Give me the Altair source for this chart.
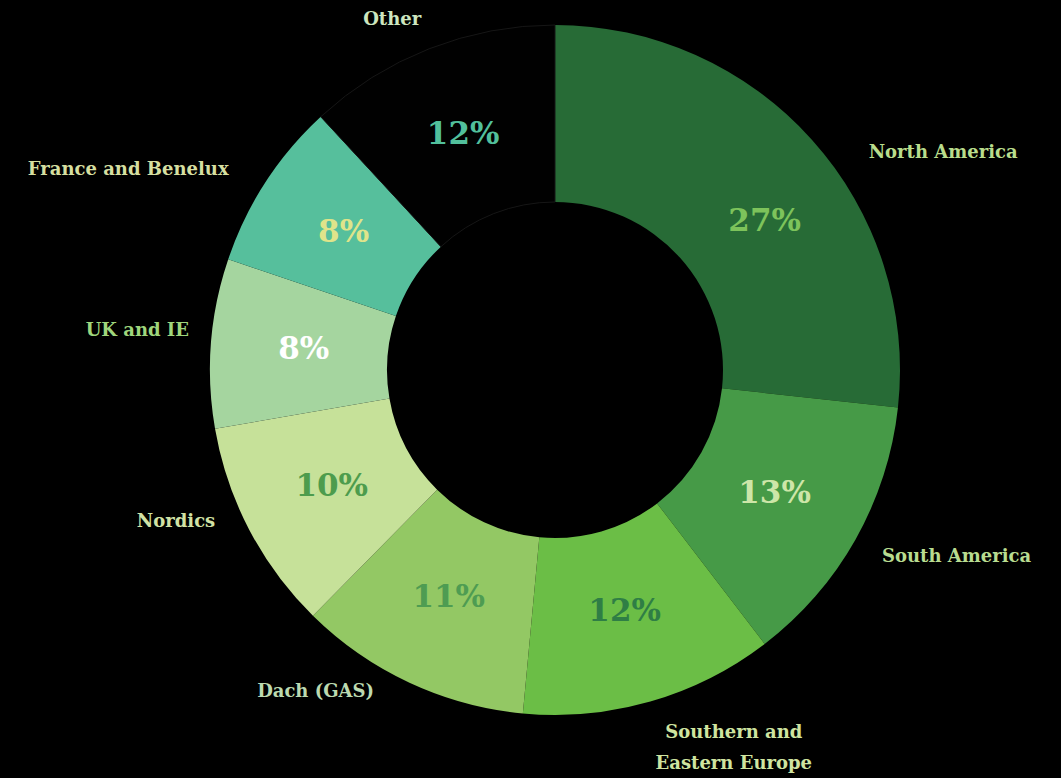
import altair as alt
import pandas as pd

# ---- data ----
regions = ["North America", "South America", "Southern and Eastern Europe",
           "Dach (GAS)", "Nordics", "UK and IE", "France and Benelux", "Other"]
shares = [27, 13, 12, 11, 10, 8, 8, 12]
pct_text = ["27%", "13%", "12%", "11%", "10%", "8%", "8%", "12%"]
name_text = ["North America", "South America", "Southern and\nEastern Europe",
             "Dach (GAS)", "Nordics", "UK and IE", "France and Benelux", "Other"]

# ---- styles ----
slice_colors = ["#276b36", "#469a47", "#6bbe46", "#93c864", "#c6e199",
                "#a5d59f", "#56bf9c", "#010101"]
pct_colors = ["#7dc35b", "#cde6a8", "#2f7e45", "#4e9c52", "#4d9c4d",
              "#ffffff", "#dfe48a", "#52c09c"]
name_colors = ["#b9dd8c", "#b8dc90", "#cfe4a0", "#bcdab0", "#d2e2a5",
               "#9fd67c", "#d6dfa0", "#cde6bf"]

W, H = 1061, 778
CX, CY = 555, 370
R_IN, R_OUT = 168, 345
R_PCT, R_NAME = 252, 430
pct_nudge = [(22, 20), (0, 0), (0, 0), (0, 0), (0, 0), (0, 0), (0, 0), (0, 0)]
name_nudge = [(68, 70), (27, -24), (60, -50), (-58, -68), (2, -47),
              (11, -6), (-66, 34), (-6, 50)]

df = pd.DataFrame({
    "idx": list(range(len(regions))),
    "region": regions,
    "share": shares,
    "pct": pct_text,
    "name": name_text,
})

base = alt.Chart(df)

arcs = base.mark_arc(innerRadius=R_IN, outerRadius=R_OUT, stroke="#161616",
                     strokeWidth=1).encode(
    theta=alt.Theta("share:Q", stack=True),
    order=alt.Order("idx:Q"),
    color=alt.Color("region:N", scale=alt.Scale(domain=regions, range=slice_colors),
                    legend=None),
    strokeOpacity=alt.condition(alt.datum.region == "Other", alt.value(1), alt.value(0)),
    x=alt.value(CX),
    y=alt.value(CY),
)

text_base = (
    base.transform_window(cum="sum(share)", sort=[alt.SortField("idx")], frame=[None, 0])
    .transform_joinaggregate(total="sum(share)")
    .transform_calculate(mid="(datum.cum - datum.share/2) / datum.total * 2 * PI")
)

layers = [arcs]
for i in range(len(regions)):
    dx, dy = pct_nudge[i]
    layers.append(
        text_base.transform_filter(alt.datum.idx == i)
        .transform_calculate(px=f"{CX} + {R_PCT} * sin(datum.mid)",
                             py=f"{CY} - {R_PCT} * cos(datum.mid)")
        .mark_text(font="DejaVu Serif", fontWeight="bold", fontSize=31,
                   color=pct_colors[i], align="center", baseline="middle",
                   dx=dx, dy=dy)
        .encode(x=alt.X("px:Q", scale=None, axis=None),
                y=alt.Y("py:Q", scale=None, axis=None),
                text="pct:N")
    )
    ndx, ndy = name_nudge[i]
    layers.append(
        text_base.transform_filter(alt.datum.idx == i)
        .transform_calculate(px=f"{CX} + {R_NAME} * sin(datum.mid)",
                             py=f"{CY} - {R_NAME} * cos(datum.mid)")
        .mark_text(font="DejaVu Serif", fontWeight="bold", fontSize=18,
                   color=name_colors[i], align="center", baseline="middle",
                   lineBreak="\n", lineHeight=31, dx=ndx, dy=ndy)
        .encode(x=alt.X("px:Q", scale=None, axis=None),
                y=alt.Y("py:Q", scale=None, axis=None),
                text="name:N")
    )

chart = alt.layer(*layers).properties(
    width=W, height=H, background="black", padding=0,
    autosize=alt.AutoSizeParams(type="none"),
).configure_view(stroke=None)

chart.save("out.html", embed_options={"renderer": "svg", "actions": False})
